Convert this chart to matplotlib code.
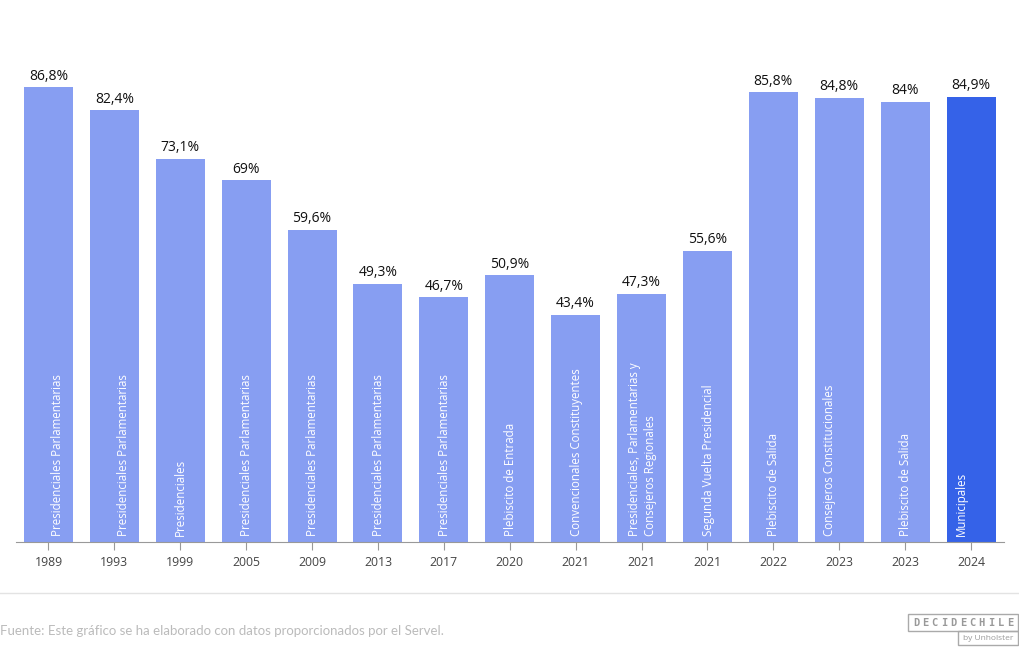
import matplotlib.pyplot as plt
from matplotlib.patches import Rectangle
from matplotlib.transforms import offset_copy

plt.rcParams['font.family'] = ['Open Sans', 'DejaVu Sans']

years = ["1989", "1993", "1999", "2005", "2009", "2013", "2017", "2020",
         "2021", "2021", "2021", "2022", "2023", "2023", "2024"]
elections = [
    "Presidenciales Parlamentarias",
    "Presidenciales Parlamentarias",
    "Presidenciales",
    "Presidenciales Parlamentarias",
    "Presidenciales Parlamentarias",
    "Presidenciales Parlamentarias",
    "Presidenciales Parlamentarias",
    "Plebiscito de Entrada",
    "Convencionales Constituyentes",
    "Presidenciales, Parlamentarias y\nConsejeros Regionales",
    "Segunda Vuelta Presidencial",
    "Plebiscito de Salida",
    "Consejeros Constitucionales",
    "Plebiscito de Salida",
    "Municipales",
]
turnout = [86.8, 82.4, 73.1, 69.0, 59.6, 49.3, 46.7, 50.9,
           43.4, 47.3, 55.6, 85.8, 84.8, 84.0, 84.9]

light = "#879ef2"
dark = "#3562e8"
colors = [light] * (len(turnout) - 1) + [dark]
width = 0.745
# small horizontal nudges (in points) for the in-bar labels near the edges
nudge = {0: 6.5, 1: 6.5, 12: -7, 14: -7}

fig = plt.figure(figsize=(10.2, 6.5), dpi=100)
ax = fig.add_axes([15.5 / 1020, 1 - 542 / 650, (1004 - 15.5) / 1020, 524 / 650])

x = range(len(turnout))
ax.bar(x, turnout, width=width, color=colors, zorder=2)

for i, (v, lab) in enumerate(zip(turnout, elections)):
    txt = f"{v:.1f}".replace(".", ",").replace(",0", "") + "%"
    ax.text(i, v + 0.7, txt, ha="center", va="bottom", fontsize=10, color="#111111")
    tr = offset_copy(ax.transData, fig=fig, x=nudge.get(i, 0.4), y=0, units="points")
    ax.text(i, 1.1, lab, rotation=90, ha="center", va="bottom", transform=tr,
            multialignment="left", fontsize=8.3, color="white", linespacing=1.3)

ax.set_xlim(-0.5, len(turnout) - 0.5)
ax.set_ylim(0, 100)
ax.set_xticks(list(x))
ax.set_xticklabels(years, fontsize=8.8, color="#444444")
ax.tick_params(axis="x", length=6, color="#999999", pad=4)
ax.set_yticks([])
for s in ["top", "right", "left"]:
    ax.spines[s].set_visible(False)
ax.spines["bottom"].set_color("#999999")

# separator and footer
fig.add_artist(plt.Line2D([0, 1], [1 - 593 / 650, 1 - 593 / 650], color="#e3e3e3", lw=1))
fig.text(0 / 1020, 1 - 631 / 650, "Fuente: Este gráfico se ha elaborado con datos proporcionados por el Servel.",
         fontsize=9.5, color="#bbbbbb", ha="left", va="center", family="Lato")

# logo
fig.add_artist(Rectangle((908 / 1020, 1 - 631 / 650), 110 / 1020, 17 / 650, fill=False,
                         edgecolor="#aaaaaa", lw=1, transform=fig.transFigure))
for k, ch in enumerate("DECIDECHILE"):
    fig.text((916 + k * 9.4) / 1020, 1 - 622.5 / 650, ch, fontsize=7.5, color="#999999",
             ha="center", va="center", family="DejaVu Sans Mono", weight="bold")
fig.add_artist(Rectangle((958 / 1020, 1 - 645 / 650), 60 / 1020, 14 / 650, fill=False,
                         edgecolor="#aaaaaa", lw=1, transform=fig.transFigure))
fig.text(988 / 1020, 1 - 638 / 650, "by Unholster", fontsize=6, color="#999999",
         ha="center", va="center")

fig.savefig("out.png", dpi=100)
